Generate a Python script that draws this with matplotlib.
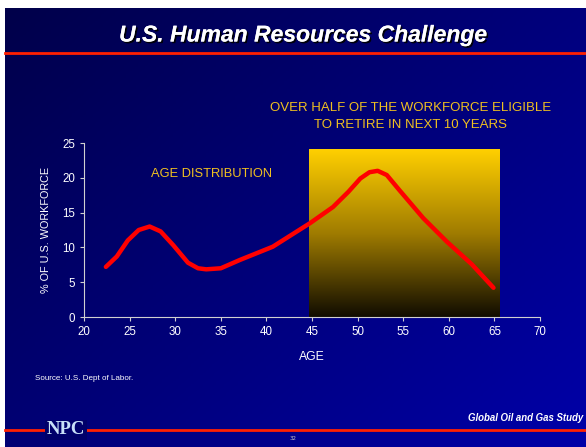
import numpy as np
import matplotlib
matplotlib.use("Agg")
from matplotlib import pyplot as plt
from matplotlib.colors import LinearSegmentedColormap
import matplotlib.patheffects as pe

# age distribution curve
ages = [22.4, 23.6, 24.8, 26.0, 27.2, 28.4, 29.8, 31.4, 32.5, 33.4, 35.0, 37.1,
        40.7, 44.8, 47.3, 49.0, 50.3, 51.3, 52.2, 53.2, 54.6, 57.2, 59.8, 62.5, 64.9]
pct = [7.2, 8.7, 11.0, 12.5, 13.0, 12.3, 10.3, 7.8, 7.0, 6.85, 7.0, 8.2,
       10.1, 13.5, 15.8, 18.0, 19.9, 20.8, 21.0, 20.4, 18.2, 14.2, 10.8, 7.6, 4.2]

retire_start = 44.7
retire_end = 65.6
retire_top = 24.1

xticks = [20, 25, 30, 35, 40, 45, 50, 55, 60, 65, 70]
yticks = [0, 5, 10, 15, 20, 25]

gold = "#f0c020"

fig = plt.figure(figsize=(5.86, 4.47), dpi=100)

# slide background with gradient
bg = fig.add_axes([5 / 586, 0, 1 - 5 / 586, 1 - 8 / 447])
gx, gy = np.meshgrid(np.linspace(0, 1, 200), np.linspace(0, 1, 200))
t = 0.55 * gx + 0.45 * gy
bg_cmap = LinearSegmentedColormap.from_list("bg", ["#00004a", "#0000a8"])
bg.imshow(t, cmap=bg_cmap, aspect="auto", extent=[0, 1, 0, 1], origin="upper")
bg.set_xlim(0, 1)
bg.set_ylim(0, 1)
bg.axis("off")

# header / footer lines
fig.add_artist(plt.Line2D([5 / 586, 1], [1 - 53 / 447] * 2, color="#ff2000", lw=2))
fig.add_artist(plt.Line2D([5 / 586, 1], [1 - 430 / 447] * 2, color="#ff2000", lw=2))

fig.text(303 / 586, 1 - 35 / 447, "U.S. Human Resources Challenge", color="white",
         fontsize=16.5, fontweight="bold", style="italic", ha="center", va="center",
         family="Liberation Sans",
         path_effects=[pe.withSimplePatchShadow(offset=(1.2, -1.2), shadow_rgbFace="black", alpha=0.9), pe.Normal()])

fig.text(411 / 586, 1 - 116.5 / 447, "OVER HALF OF THE WORKFORCE ELIGIBLE\nTO RETIRE IN NEXT 10 YEARS",
         color=gold, fontsize=9.5, ha="center", va="center", family="Liberation Sans", linespacing=1.45)

fig.text(35 / 586, 1 - 378 / 447, "Source: U.S. Dept of Labor.", color="white", fontsize=5.8,
         ha="left", va="center", family="Liberation Sans")
fig.text(583 / 586, 1 - 418 / 447, "Global Oil and Gas Study", color="white", fontsize=6.9,
         fontweight="bold", style="italic", ha="right", va="center", family="Liberation Sans")
fig.text(66 / 586, 1 - 430 / 447, "NPC", color="#c8e0f8", fontsize=13.5, fontweight="bold",
         ha="center", va="center", family="Liberation Serif",
         bbox=dict(boxstyle="square,pad=0.1", fc="#00006a", ec="none"))
fig.text(293 / 586, 1 - 439 / 447, "32", color="#c0c0c0", fontsize=4, ha="center", va="center")

# chart
ax = fig.add_axes([84 / 586, 1 - 317 / 447, 456 / 586, 174 / 447])
ax.patch.set_alpha(0)

grad = np.linspace(1, 0, 256).reshape(-1, 1)
rect_cmap = LinearSegmentedColormap.from_list("rect", ["#100c00", "#a07c00", "#ffd000"])
ax.imshow(grad, cmap=rect_cmap, aspect="auto", origin="upper",
          extent=[retire_start, retire_end, 0, retire_top], zorder=1)

ax.plot(ages, pct, color="#ff0000", lw=3.2, solid_joinstyle="round", solid_capstyle="round", zorder=3)

ax.text(34.0, 20.6, "AGE DISTRIBUTION", color=gold, fontsize=9.3, ha="center", va="center",
        family="Liberation Sans")

ax.set_xlim(20, 70)
ax.set_ylim(0, 25)
ax.set_xticks(xticks)
ax.set_yticks(yticks)
for s in ["top", "right"]:
    ax.spines[s].set_visible(False)
for s in ["left", "bottom"]:
    ax.spines[s].set_color("#d0d0d0")
    ax.spines[s].set_zorder(4)
ax.tick_params(colors="#d0d0d0", labelcolor="white", labelsize=8.3, length=3, direction="out")
for lab in ax.get_xticklabels() + ax.get_yticklabels():
    lab.set_family("Liberation Sans")
ax.set_xlabel("AGE", color="white", fontsize=8.8, family="Liberation Sans", labelpad=9)
ax.set_ylabel("% OF U.S. WORKFORCE", color="white", fontsize=7.8, family="Liberation Sans", labelpad=8)

fig.savefig("out.png", dpi=100, facecolor="white")
